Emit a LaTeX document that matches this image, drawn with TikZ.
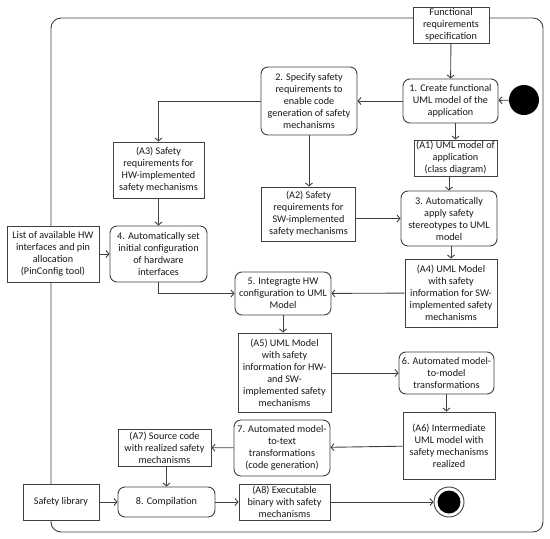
\documentclass[tikz,border=0pt]{standalone}
\usepackage{fontspec}
\setmainfont{Carlito}
\usetikzlibrary{arrows.meta}
\tikzset{
  lc/.style={draw=black!75, line width=0.9pt},
  base/.style={lc, fill=white, align=center, inner sep=0pt, font=\fontsize{10.2}{12}\selectfont, text=black!90},
  sbox/.style={base},
  rbox/.style={base, rounded corners=7pt},
  arr/.style={lc, -{Straight Barb[length=3pt,width=7pt]}},
}
\begin{document}
\begin{tikzpicture}[x=1pt,y=-1pt]
\useasboundingbox (0,0) rectangle (550,539);
\draw[lc, rounded corners=10pt] (51,18) rectangle (543,532);

\node[sbox, minimum width=76, minimum height=36] (frs) at (451,25) {Functional\\requirements\\specification};
\node[rbox, minimum width=95, minimum height=44] (n1) at (450.5,101) {1. Create functional\\UML model of the\\application};
\node[circle, fill=black, minimum size=30, inner sep=0] (start) at (524,100) {};
\node[rbox, minimum width=96, minimum height=68] (n2) at (309,101) {2. Specify safety\\requirements to\\enable code\\generation of safety\\mechanisms};
\node[sbox, minimum width=91, minimum height=56] (a3) at (158.5,170) {(A3) Safety\\requirements for\\HW-implemented\\safety mechanisms};
\node[sbox, minimum width=83, minimum height=36] (a1) at (455.5,158) {(A1) UML model of\\application\\(class diagram)};
\node[sbox, minimum width=94, minimum height=54] (a2) at (308.5,214) {(A2) Safety\\requirements for\\SW-implemented\\safety mechanisms};
\node[rbox, minimum width=96, minimum height=55] (n3) at (449,218.5) {3. Automatically\\apply safety\\stereotypes to UML\\model};
\node[sbox, minimum width=92, minimum height=56] (list) at (53,254) {List of available HW\\interfaces and pin\\allocation\\(PinConfig tool)};
\node[rbox, minimum width=97, minimum height=56] (n4) at (158.5,254) {4. Automatically set\\initial configuration\\of hardware\\interfaces};
\node[sbox, minimum width=92, minimum height=68] (a4) at (451,293) {(A4) UML Model\\with safety\\information for SW-\\implemented safety\\mechanisms};
\node[rbox, minimum width=96, minimum height=43] (n5) at (283,293.5) {5. Integragte HW\\configuration to UML\\Model};
\node[sbox, minimum width=93, minimum height=79] (a5) at (284.5,372.5) {(A5) UML Model\\with safety\\information for HW-\\and SW-\\implemented safety\\mechanisms};
\node[rbox, minimum width=95, minimum height=42] (n6) at (446.5,373) {6. Automated model-\\to-model\\transformations};
\node[sbox, minimum width=92, minimum height=67] (a6) at (449,445.5) {(A6) Intermediate\\UML model with\\safety mechanisms\\realized};
\node[rbox, minimum width=96, minimum height=56] (n7) at (282,448) {7. Automated model-\\to-text\\transformations\\(code generation)};
\node[sbox, minimum width=93, minimum height=37] (a7) at (164.5,447.5) {(A7) Source code\\with realized safety\\mechanisms};
\node[sbox, minimum width=76, minimum height=36] (lib) at (61,502) {Safety library};
\node[rbox, minimum width=97, minimum height=30] (n8) at (166.5,502) {8. Compilation};
\node[sbox, minimum width=91, minimum height=36] (a8) at (284.5,502) {(A8) Executable\\binary with safety\\mechanisms};
\node[circle, lc, fill=white, minimum size=30, inner sep=0] (end) at (449,502) {};
\fill[black] (end.center) circle (11.5);

\draw[arr] (frs) -- (n1);
\draw[arr] (start) -- (n1);
\draw[arr] (n1) -- (n2);
\draw[arr] (n2.west) -| (a3.north);
\draw[arr] (n1.south -| a1.north) -- (a1.north);
\draw[arr] (a1.south -| n3.north) -- (n3.north);
\draw[arr] (n2.south) -- (n2.south |- a2.north);
\draw[arr] (a2.east |- n3.west) -- (n3.west);
\draw[arr] (a3) -- (n4);
\draw[arr] (list) -- (n4);
\draw[arr] (n3.south -| a4.north) -- (a4.north);
\draw[arr] (a4) -- (n5);
\draw[arr] (n4.south) |- (n5.west);
\draw[arr] (n5.south) -- (n5.south |- a5.north);
\draw[arr] (a5.east |- n6.west) -- (n6.west);
\draw[arr] (n6.south) -- (n6.south |- a6.north);
\draw[arr] (a6) -- (n7);
\draw[arr] (n7) -- (a7);
\draw[arr] (a7.south -| n8.north) -- (n8.north);
\draw[arr] (lib) -- (n8);
\draw[arr] (n8) -- (a8);
\draw[arr] (a8) -- (end);
\end{tikzpicture}
\end{document}
